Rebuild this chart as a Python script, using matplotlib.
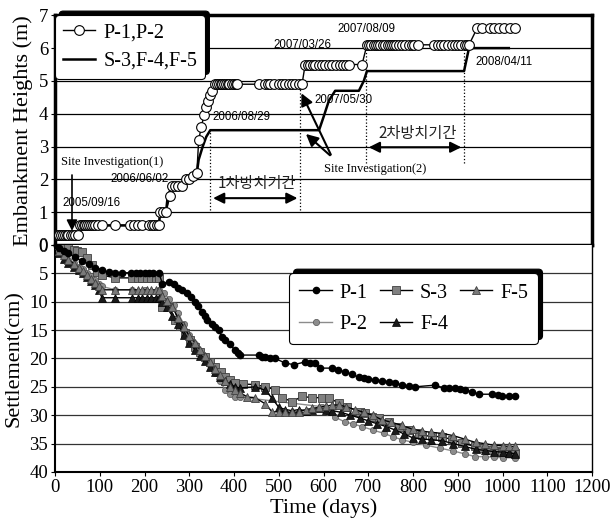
import matplotlib
matplotlib.use("Agg")
import matplotlib.pyplot as plt

plt.rcParams["font.family"] = ["Liberation Serif", "DejaVu Serif"]

# ---- top panel: embankment heights ----
p_days = [0, 6, 10, 14, 18, 22, 26, 30, 35, 40, 45, 52,
          56, 60, 64, 68, 72, 76, 80, 85, 90, 96, 105, 134, 168, 176, 185, 194,
          210, 216, 222, 228, 232, 235, 242, 248, 257, 262, 268, 275, 284,
          293, 300, 308, 317, 321, 327, 333, 337, 342, 346, 351,
          358, 362, 366, 370, 374, 378, 382, 386, 389, 396, 400, 404, 407,
          455, 470, 475, 480, 490, 500, 507, 515, 522, 530, 537, 545, 552,
          559, 565, 570, 576, 582, 590, 597, 604, 612, 620, 628, 636, 644, 651, 657, 686,
          697, 702, 707, 712, 717, 722, 727, 733, 738, 743, 748, 753, 758, 763, 768,
          775, 782, 790, 797, 803, 810, 847, 855, 862, 870, 878, 886, 893, 900,
          908, 915, 920, 925,
          943, 954, 972, 981, 993, 1004, 1016, 1028]
p_height = [0.3] * 12 + [0.6] * 21 + [1.0, 1.0, 1.0, 1.5, 1.8, 1.8, 1.8, 1.8,
            2.0, 2.0, 2.1, 2.2, 3.2, 3.6, 3.96, 4.2, 4.4, 4.56, 4.7] \
    + [4.9] * 26 + [5.5] * 16 + [6.1] * 33 + [6.6] * 8

s_days = [0, 55, 58, 232, 235, 248, 252, 262, 284, 293, 300, 317, 321, 330, 338, 347,
          590, 600, 612, 626, 679, 690, 697, 914, 925, 1014]
s_height = [0.3, 0.3, 0.6, 0.6, 1.0, 1.0, 1.5, 1.8, 1.8, 2.0, 2.0, 2.2, 2.6, 3.0, 3.3, 3.5,
            3.5, 3.9, 4.4, 4.7, 4.7, 5.0, 5.3, 5.3, 6.0, 6.0]

# ---- bottom panel: settlement ----
p1_days = [0, 10, 20, 30, 45, 60, 75, 90, 105, 120, 134, 150, 170, 180, 190, 200, 210, 220, 232,
           240, 254, 265, 275, 284, 295, 305, 313, 320, 328, 335, 340, 350, 358, 366, 373, 380,
           390, 402, 408, 413, 455, 462, 470, 480, 492, 514, 534, 559, 570, 581, 593, 619, 633,
           648, 663, 679, 690, 700, 715, 730, 746, 760, 775, 790, 804, 849, 869, 880, 894, 905,
           916, 932, 947, 977, 990, 999, 1014, 1028]
p1_settle = [0, 0.5, 1.0, 1.5, 2.2, 2.8, 3.4, 4.0, 4.5, 4.8, 4.9, 4.9, 4.9, 4.9, 4.9, 4.9, 4.9, 4.9, 4.9,
             6.8, 6.5, 6.9, 7.5, 7.9, 8.5, 9.2, 10.0, 10.8, 11.8, 12.5, 13.2, 14.0, 14.5, 15.0, 16.2, 16.7,
             17.5, 18.5, 19.0, 19.4, 19.4, 19.7, 19.7, 19.9, 20.0, 20.8, 21.1, 20.6, 20.8, 20.8, 21.7, 21.7, 22.0,
             22.4, 22.8, 23.3, 23.5, 23.6, 23.8, 24.0, 24.1, 24.3, 24.7, 24.9, 25.0, 24.7, 25.2, 25.2, 25.2, 25.4,
             25.5, 25.9, 26.3, 26.3, 26.5, 26.6, 26.6, 26.6]

s3_days = [0, 15, 30, 42, 50, 60, 71, 83, 94, 105, 134, 172, 185, 195, 205, 215, 225, 232,
           240, 255, 269, 280, 291, 302, 313, 325, 336, 347, 358, 370, 380, 392, 403, 420, 447,
           470, 492, 507, 530, 552, 574, 596, 612, 634, 652, 682, 693, 708, 724, 746, 769, 791,
           813, 820, 842, 865, 887, 909, 939, 955, 970, 985, 999, 1014, 1028]
s3_settle = [0, 0.3, 0.6, 0.9, 1.0, 1.2, 2.3, 3.5, 4.7, 5.3, 5.8, 5.8, 5.8, 5.8, 5.8, 5.8, 5.8, 5.8,
             10.9, 11.0, 13.2, 14.3, 15.5, 16.8, 17.9, 18.8, 19.7, 20.6, 21.5, 22.3, 23.2, 23.8, 24.3, 24.5, 24.6,
             25.0, 25.5, 26.9, 27.6, 26.7, 26.9, 26.9, 27.0, 27.8, 28.5, 29.4, 29.6, 30.3, 30.5, 31.2, 32.0, 32.6,
             33.1, 33.5, 33.7, 33.8, 34.3, 34.9, 35.5, 35.8, 36.1, 36.3, 36.5, 36.6, 36.7]

f4_days = [0, 10, 20, 30, 42, 53, 62, 72, 81, 90, 98, 105, 134, 172, 185, 195, 205, 215, 225, 232,
           240, 250, 262, 275, 288, 300, 313, 325, 336, 347, 358, 369, 380, 391, 402, 413, 447, 470,
           485, 500, 515, 530, 545, 560, 575, 590, 605, 620, 640, 660, 682, 700, 720, 740, 760, 780,
           800, 820, 840, 865, 890, 915, 940, 960, 980, 1000, 1014, 1028]
f4_settle = [0, 1.5, 2.5, 3.2, 3.8, 4.4, 5.0, 5.6, 6.3, 7.0, 8.0, 9.3, 9.3, 9.3, 9.3, 9.3, 9.3, 9.3, 9.3, 9.3,
             10.0, 11.0, 12.5, 14.0, 15.8, 17.2, 18.5, 19.5, 20.5, 21.5, 22.3, 23.2, 24.0, 24.5, 25.0, 25.2, 25.0, 25.6,
             27.0, 28.6, 29.0, 29.2, 29.0, 29.2, 29.0, 28.8, 29.0, 29.2, 29.5, 30.0, 30.5, 31.0, 31.5, 32.0, 32.6, 33.3,
             34.0, 34.2, 34.3, 34.5, 35.0, 35.5, 36.0, 36.2, 36.4, 36.5, 36.6, 36.8]

f5_days = [0, 10, 20, 30, 42, 53, 62, 72, 81, 90, 98, 105, 134, 172, 185, 195, 205, 215, 225, 232,
           240, 250, 262, 275, 288, 300, 313, 325, 336, 347, 358, 369, 380, 391, 402, 413, 430, 447,
           470, 485, 500, 515, 530, 545, 560, 575, 590, 605, 620, 634, 650, 670, 690, 710, 730, 750,
           775, 800, 820, 840, 865, 890, 915, 940, 960, 980, 1000, 1014, 1028]
f5_settle = [0, 1.0, 1.8, 2.6, 3.3, 4.0, 4.6, 5.3, 6.0, 6.7, 7.3, 7.9, 7.9, 7.9, 7.9, 7.9, 7.9, 7.9, 7.9, 7.9,
             9.0, 9.8, 11.0, 12.8, 14.5, 16.0, 17.2, 18.5, 19.6, 20.6, 21.8, 23.0, 24.0, 25.0, 25.6, 26.0, 26.8, 26.9,
             28.0, 29.4, 29.4, 29.4, 29.5, 29.4, 29.0, 28.8, 28.6, 28.4, 28.2, 28.2, 28.5, 29.0, 29.5, 30.0, 30.8, 31.2,
             31.8, 32.5, 32.8, 33.0, 33.2, 33.6, 34.2, 34.8, 35.0, 35.3, 35.4, 35.5, 35.5]

p2_days = [0, 10, 20, 30, 42, 53, 62, 72, 81, 90, 98, 105, 134, 172, 200, 232,
           243, 255, 265, 275, 288, 300, 313, 325, 336, 347, 358, 369, 380, 391, 402, 413,
           597, 610, 625, 648, 665, 686, 710, 735, 755, 775, 800, 830, 860, 890, 915, 939,
           960, 980, 1000, 1028]
p2_settle = [0, 1.2, 2.0, 2.6, 3.2, 3.8, 4.3, 5.0, 5.5, 6.2, 6.8, 7.3, 7.9, 7.9, 7.9, 7.9,
             8.5, 9.5, 10.5, 12.0, 14.0, 15.8, 17.5, 18.8, 20.0, 21.2, 22.5, 24.0, 25.5, 26.3, 26.8, 26.8,
             28.5, 29.5, 30.3, 31.2, 31.5, 32.0, 32.6, 33.2, 33.8, 34.3, 34.8, 35.3, 35.8, 36.3, 36.8, 37.3,
             37.3, 37.4, 37.5, 37.5]

fig = plt.figure(figsize=(6.11, 5.26), dpi=100)
ax1 = fig.add_axes([0.090, 0.534, 0.879, 0.437])
ax2 = fig.add_axes([0.090, 0.1027, 0.879, 0.4316])

# top panel
for y in range(1, 7):
    ax1.axhline(y, color="k", lw=0.9, zorder=0)
ax1.plot(p_days, p_height, "-o", color="k", lw=1.0, ms=7, mfc="white", mec="k", mew=0.8,
         label="P-1,P-2", zorder=3)
ax1.plot(s_days, s_height, "-", color="k", lw=1.8, label="S-3,F-4,F-5", zorder=2)
ax1.set_xlim(0, 1200)
ax1.set_ylim(0, 7)
ax1.set_yticks(range(0, 8))
ax1.set_xticks([])
ax1.tick_params(axis="y", labelsize=13.5, length=3, pad=2)
for sp in ax1.spines.values():
    sp.set_linewidth(2.5)
ax1.set_ylabel("Embankment Heights (m)", fontsize=16, labelpad=4)

leg1 = ax1.legend(loc="upper left", bbox_to_anchor=(0.0, 1.0), borderaxespad=0.0,
                  fontsize=14.5, handlelength=1.6, handletextpad=0.4, labelspacing=0.45,
                  fancybox=True, framealpha=1, edgecolor="k",
                  shadow={"ox": 3, "oy": 3, "color": "k", "alpha": 1})
leg1.get_frame().set_linewidth(0.8)

sans = "Liberation Sans"
dsize = 8.3
ax1.text(16, 1.28, "2005/09/16", fontsize=dsize, family=sans, va="center", ha="left")
ax1.text(255, 2.0, "2006/06/02", fontsize=dsize, family=sans, va="center", ha="right")
ax1.text(351, 3.9, "2006/08/29", fontsize=dsize, family=sans, va="center", ha="left")
ax1.text(554, 6.09, "2007/03/26", fontsize=dsize, family=sans, va="center", ha="center")
ax1.text(695, 6.57, "2007/08/09", fontsize=dsize, family=sans, va="center", ha="center")
ax1.text(579, 4.41, "2007/05/30", fontsize=dsize, family=sans, va="center", ha="left")
ax1.text(939, 5.57, "2008/04/11", fontsize=dsize, family=sans, va="center", ha="left")

ax1.text(13, 2.53, "Site Investigation(1)", fontsize=9, va="center", ha="left")
ax1.annotate("", xy=(38, 0.35), xytext=(38, 2.22),
             arrowprops=dict(arrowstyle="-|>", color="k", lw=1.2, mutation_scale=16))
ax1.text(715, 2.31, "Site Investigation(2)", fontsize=9, va="center", ha="center")
ax1.annotate("", xy=(548, 4.7), xytext=(619, 2.68),
             arrowprops=dict(arrowstyle="-|>", color="k", lw=1.5, mutation_scale=18))
ax1.annotate("", xy=(556, 3.44), xytext=(619, 2.68),
             arrowprops=dict(arrowstyle="-|>", color="k", lw=1.5, mutation_scale=18))

kor = ["Noto Sans CJK KR", "DejaVu Sans"]
ax1.plot([347, 347], [1.07, 3.5], ":", color="k", lw=0.9)
ax1.plot([548, 548], [1.07, 4.9], ":", color="k", lw=0.9)
ax1.plot([695, 695], [2.5, 6.1], ":", color="k", lw=0.9)
ax1.plot([914, 914], [2.5, 6.1], ":", color="k", lw=0.9)
ax1.annotate("", xy=(347, 1.43), xytext=(548, 1.43),
             arrowprops=dict(arrowstyle="<|-|>", color="k", lw=1.5, mutation_scale=16))
ax1.annotate("", xy=(695, 2.98), xytext=(914, 2.98),
             arrowprops=dict(arrowstyle="<|-|>", color="k", lw=1.5, mutation_scale=16))
ax1.text(452, 1.89, "1차방치기간", fontsize=11, family=kor, color="#222222", va="center", ha="center")
ax1.text(811, 3.4, "2차방치기간", fontsize=11, family=kor, color="#222222", va="center", ha="center")

# bottom panel
for y in range(5, 40, 5):
    ax2.axhline(y, color="#333333", lw=0.9, zorder=0)
ax2.plot(p1_days, p1_settle, "-o", color="k", lw=1.0, ms=4.5, mfc="k", mec="k", label="P-1", zorder=5)
ax2.plot(p2_days, p2_settle, "-o", color="#8c8c8c", lw=1.0, ms=4.5, mfc="#8c8c8c", mec="#555555",
         mew=0.5, label="P-2", zorder=3)
ax2.plot(s3_days, s3_settle, "-s", color="k", lw=1.0, ms=5.5, mfc="#808080", mec="#404040",
         mew=0.6, label="S-3", zorder=4)
ax2.plot(f4_days, f4_settle, "-^", color="k", lw=1.0, ms=6, mfc="#1a1a1a", mec="k",
         mew=0.5, label="F-4", zorder=4)
ax2.plot(f5_days, f5_settle, "-^", color="k", lw=1.0, ms=6, mfc="#7a7a7a", mec="#404040",
         mew=0.6, label="F-5", zorder=4)
ax2.set_xlim(0, 1200)
ax2.set_ylim(40, 0)
ax2.set_xticks(range(0, 1201, 100))
ax2.set_yticks(range(0, 41, 5))
ax2.tick_params(labelsize=13.5, length=3, pad=2)
ax2.spines["top"].set_visible(False)
ax2.spines["left"].set_linewidth(1.5)
ax2.spines["bottom"].set_linewidth(1.5)
ax2.spines["right"].set_linewidth(1.0)
ax2.set_ylabel("Settlement(cm)", fontsize=16, labelpad=4)
ax2.set_xlabel("Time (days)", fontsize=16, labelpad=2)

leg2 = ax2.legend(ncol=3, loc="upper right", bbox_to_anchor=(0.9, 0.875), borderaxespad=0.0,
                  fontsize=14.5, handlelength=1.6, handletextpad=0.4, columnspacing=0.6,
                  labelspacing=0.6, borderpad=0.5, fancybox=True, framealpha=1, edgecolor="k",
                  shadow={"ox": 3, "oy": 3, "color": "k", "alpha": 1})
leg2.get_frame().set_linewidth(0.8)

fig.savefig("out.png", dpi=100)
